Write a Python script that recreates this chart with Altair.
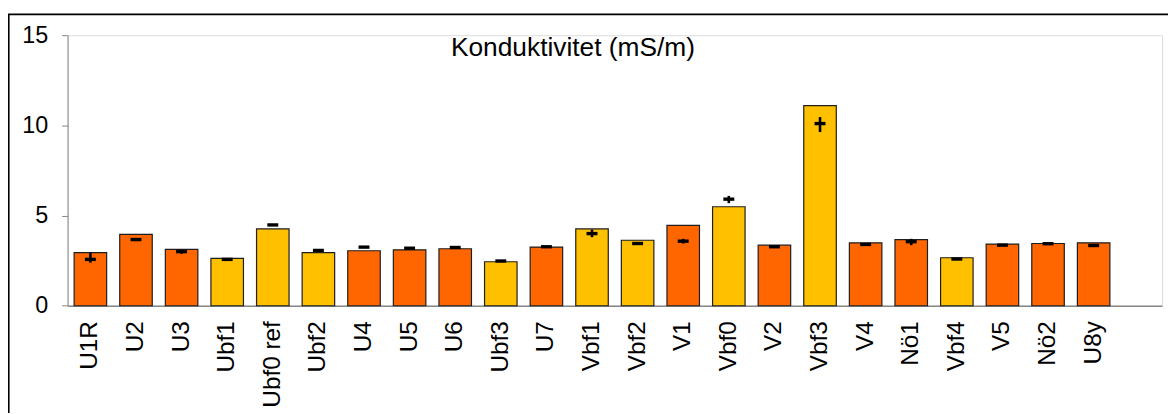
import altair as alt
import pandas as pd

categories = ["U1R", "U2", "U3", "Ubf1", "Ubf0 ref", "Ubf2", "U4", "U5", "U6", "Ubf3",
              "U7", "Vbf1", "Vbf2", "V1", "Vbf0", "V2", "Vbf3", "V4", "Nö1", "Vbf4",
              "V5", "Nö2", "U8y"]
bar_values = [2.94, 3.96, 3.12, 2.63, 4.26, 2.94, 3.05, 3.10, 3.16, 2.44,
              3.25, 4.26, 3.63, 4.46, 5.49, 3.36, 11.10, 3.49, 3.67, 2.66,
              3.42, 3.45, 3.49]
groups = ["ref", "ref", "ref", "bf", "bf", "bf", "ref", "ref", "ref", "bf",
          "ref", "bf", "bf", "ref", "bf", "ref", "bf", "ref", "ref", "bf",
          "ref", "ref", "ref"]
marker_values = [2.57, 3.67, 3.00, 2.57, 4.48, 3.07, 3.25, 3.19, 3.23, 2.48,
                 3.27, 4.00, 3.45, 3.58, 5.91, 3.27, 10.10, 3.40, 3.55, 2.59,
                 3.36, 3.44, 3.34]
err_low = [2.39, 3.64, 2.88, 2.50, 4.45, 3.00, 3.22, 3.16, 3.20, 2.45,
           3.22, 3.80, 3.42, 3.45, 5.69, 3.22, 9.63, 3.37, 3.36, 2.54,
           3.33, 3.41, 3.31]
err_high = [2.94, 3.70, 3.10, 2.63, 4.51, 3.12, 3.28, 3.22, 3.27, 2.51,
            3.30, 4.22, 3.48, 3.71, 6.09, 3.33, 10.46, 3.43, 3.71, 2.64,
            3.39, 3.47, 3.37]
title_text = "Konduktivitet (mS/m)"

domain = categories + [""]

df = pd.DataFrame({
    "site": categories,
    "value": bar_values,
    "group": groups,
    "marker": marker_values,
    "lo": err_low,
    "hi": err_high,
})

W = 1102
H = 272.4

x_enc = alt.X("site:N", sort=domain,
              scale=alt.Scale(domain=domain, paddingInner=0.287, paddingOuter=0.1435),
              axis=alt.Axis(title=None, labelAngle=-90, ticks=False, tickSize=0,
                            labelPadding=15, labelFontSize=24.5, labelColor="#000000",
                            domainColor="#868686", domainWidth=1.6, labelFont="Liberation Sans"))
y_scale = alt.Scale(domain=[0, 15], nice=False, zero=True)

bars = alt.Chart(df).mark_bar(stroke="#1e1e1e", strokeWidth=1.2).encode(
    x=x_enc,
    y=alt.Y("value:Q", scale=y_scale,
            axis=alt.Axis(title=None, values=[0, 5, 10, 15], grid=False, tickSize=6,
                          tickColor="#868686", domainColor="#868686", labelPadding=14,
                          labelFontSize=23.5, labelColor="#000000", labelFont="Liberation Sans")),
    color=alt.Color("group:N", scale=alt.Scale(domain=["ref", "bf"], range=["#FF6600", "#FFC000"]),
                    legend=None),
)

rules = alt.Chart(df).mark_rule(color="#000000", strokeWidth=2.6).encode(
    x=alt.X("site:N", sort=domain),
    y=alt.Y("lo:Q", scale=y_scale),
    y2="hi:Q",
)

ticks = alt.Chart(df).mark_tick(color="#000000", thickness=3.4, size=11, opacity=1).encode(
    x=alt.X("site:N", sort=domain),
    y=alt.Y("marker:Q", scale=y_scale),
)

frame = alt.Chart(alt.Data(values=[{}])).mark_rect(
    fillOpacity=0, stroke="#000000", strokeWidth=1.8
).encode(
    x=alt.value(-59.3), x2=alt.value(W + 40),
    y=alt.value(-21), y2=alt.value(H + 140),
)

title = alt.Chart(alt.Data(values=[{}])).mark_text(
    align="left", baseline="alphabetic", fontSize=26.5, font="Liberation Sans", color="#000000"
).encode(
    x=alt.value(386), y=alt.value(21), text=alt.value(title_text),
)

chart = alt.layer(frame, bars, rules, ticks, title).properties(
    width=W,
    height=H,
    autosize=alt.AutoSizeParams(type="none"),
    padding={"left": 60, "top": 26, "right": 6, "bottom": 107},
).configure_view(strokeWidth=0).configure(font="Liberation Sans")

chart.save("out.html", embed_options={"renderer": "svg", "actions": False})
